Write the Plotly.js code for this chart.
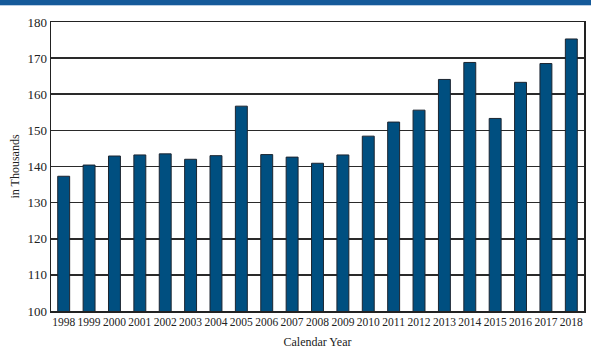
<!DOCTYPE html>
<html><head><meta charset="utf-8">
<script src="https://cdn.plot.ly/plotly-3.0.1.min.js"></script>
<style>html,body{margin:0;padding:0;background:#fff;}#chart{width:591px;height:350px;}</style>
</head><body><div id="chart"></div>
<script>
const years = ["1998","1999","2000","2001","2002","2003","2004","2005","2006","2007","2008","2009","2010","2011","2012","2013","2014","2015","2016","2017","2018"];
const values = [137.3,140.4,142.9,143.2,143.5,142.0,143.0,156.7,143.3,142.6,140.9,143.2,148.4,152.3,155.6,164.1,168.8,153.3,163.3,168.5,175.3];
const yTicks = [100,110,120,130,140,150,160,170,180];

const H = 289;
const trace = {
  type: 'bar', x: years, y: values, base: 0,
  marker: {color: '#004f80', line: {color: '#1c2530', width: 1}},
  width: 0.47, hoverinfo: 'skip'
};
const layout = {
  width: 591, height: 350,
  margin: {l: 51, r: 7, t: 22, b: 39, pad: 0},
  paper_bgcolor: '#fff', plot_bgcolor: '#fff',
  showlegend: false,
  font: {family: 'Liberation Serif, serif', color: '#222', size: 12},
  xaxis: {
    type: 'category', showgrid: false, ticks: '', tickfont: {size: 11.5}, tickangle: 0,
    showline: true, linecolor: '#222', linewidth: 1.5, mirror: true,
    title: {text: 'Calendar Year', font: {size: 12}, standoff: 10},
    range: [-0.5, 20.5], automargin: false
  },
  yaxis: {
    range: [100, 180], tickvals: yTicks, ticks: '', tickfont: {size: 13},
    showgrid: true, gridcolor: '#2a2a2a', gridwidth: 1.6,
    showline: true, linecolor: '#222', linewidth: 1.5, mirror: true,
    title: {text: 'in Thousands', font: {size: 12}, standoff: 5},
    zeroline: false, automargin: false
  },
  shapes: [
    {type: 'rect', xref: 'paper', yref: 'paper', x0: -0.2, x1: 1.1, y0: 1 + 17/H, y1: 1 + 23/H, fillcolor: '#155a9a', line: {width: 0}, layer: 'above'},
    {type: 'rect', xref: 'paper', yref: 'paper', x0: -0.2, x1: 1.1, y0: 1 + 16/H, y1: 1 + 17/H, fillcolor: '#b8cde3', line: {width: 0}, layer: 'above'}
  ]
};
Plotly.newPlot('chart', [trace], layout, {staticPlot: true, displayModeBar: false});
</script></body></html>
